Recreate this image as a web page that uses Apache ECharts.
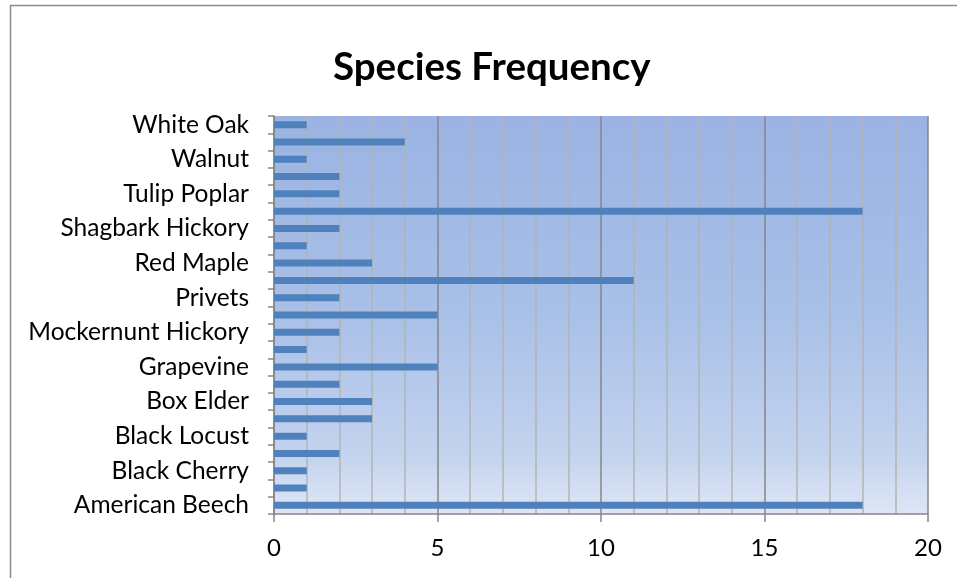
<!DOCTYPE html>
<html>
<head>
<meta charset="utf-8">
<script src="https://cdn.jsdelivr.net/npm/echarts@6/dist/echarts.min.js"></script>
<style>html,body{margin:0;padding:0;background:#fff}#c{width:957px;height:578px}</style>
</head>
<body>
<div id="c"></div>
<script>
const categories = [
  "American Beech", "Bitternut Hickory", "Black Cherry", "Black Gum", "Black Locust",
  "Black Walnut", "Box Elder", "Elm", "Grapevine", "Hackberry", "Mockernunt Hickory",
  "Multiflora Rose", "Privets", "Red Elm", "Red Maple", "Red Oak", "Shagbark Hickory",
  "Sugar Maple", "Tulip Poplar", "Virginia Creeper", "Walnut", "White Ash", "White Oak"
];
const counts = [18, 1, 1, 2, 1, 3, 3, 2, 5, 1, 2, 5, 2, 11, 3, 1, 2, 18, 2, 2, 1, 4, 1];
const xTicks = { min: 0, max: 20, interval: 5 };

const chart = echarts.init(document.getElementById('c'));
const font = 'Lato';
chart.setOption({
  animation: false,
  title: {
    text: 'Species Frequency', left: 328, top: 43,
    textStyle: { fontFamily: font, fontWeight: 'bold', fontSize: 38.5, color: '#000' }
  },
  graphic: [{
    type: 'rect', shape: { x: 10.5, y: 5.5, width: 960, height: 600 },
    style: { fill: 'none', stroke: '#8c8c8c', lineWidth: 1.5 }, silent: true, z: -10
  }],
  grid: {
    left: 274, right: 29, top: 116, bottom: 64, show: true, borderWidth: 0,
    backgroundColor: {
      type: 'linear', x: 0, y: 0, x2: 0, y2: 1,
      colorStops: [
        { offset: 0, color: '#9ab3e2' },
        { offset: 0.5, color: '#a9c0e8' },
        { offset: 0.85, color: '#c3d3ee' },
        { offset: 1, color: '#dee6f5' }
      ]
    }
  },
  xAxis: {
    type: 'value', min: xTicks.min, max: xTicks.max, interval: xTicks.interval,
    axisLine: { show: true, lineStyle: { color: '#868686', width: 1.5 } },
    axisTick: { show: true, length: 8, lineStyle: { color: '#868686', width: 1.5 } },
    axisLabel: { fontFamily: font, fontSize: 24, color: '#000', margin: 22 },
    splitLine: { show: true, lineStyle: { color: '#868686', width: 1.5 } },
    minorTick: { show: false, splitNumber: 5 },
    minorSplitLine: { show: true, lineStyle: { color: '#b4b4b4', width: 1.5 } }
  },
  yAxis: {
    type: 'category', data: categories,
    axisLine: { show: true, lineStyle: { color: '#868686', width: 1.5 } },
    axisTick: { show: true, interval: 0, length: 6, lineStyle: { color: '#868686', width: 1.5 } },
    axisLabel: { interval: 1, fontFamily: font, fontSize: 24.5, color: '#000', margin: 25 },
    splitLine: { show: false }
  },
  series: [{
    type: 'bar', data: counts, barWidth: 7,
    itemStyle: { color: '#4f81bd' }
  }]
});
</script>
</body>
</html>
